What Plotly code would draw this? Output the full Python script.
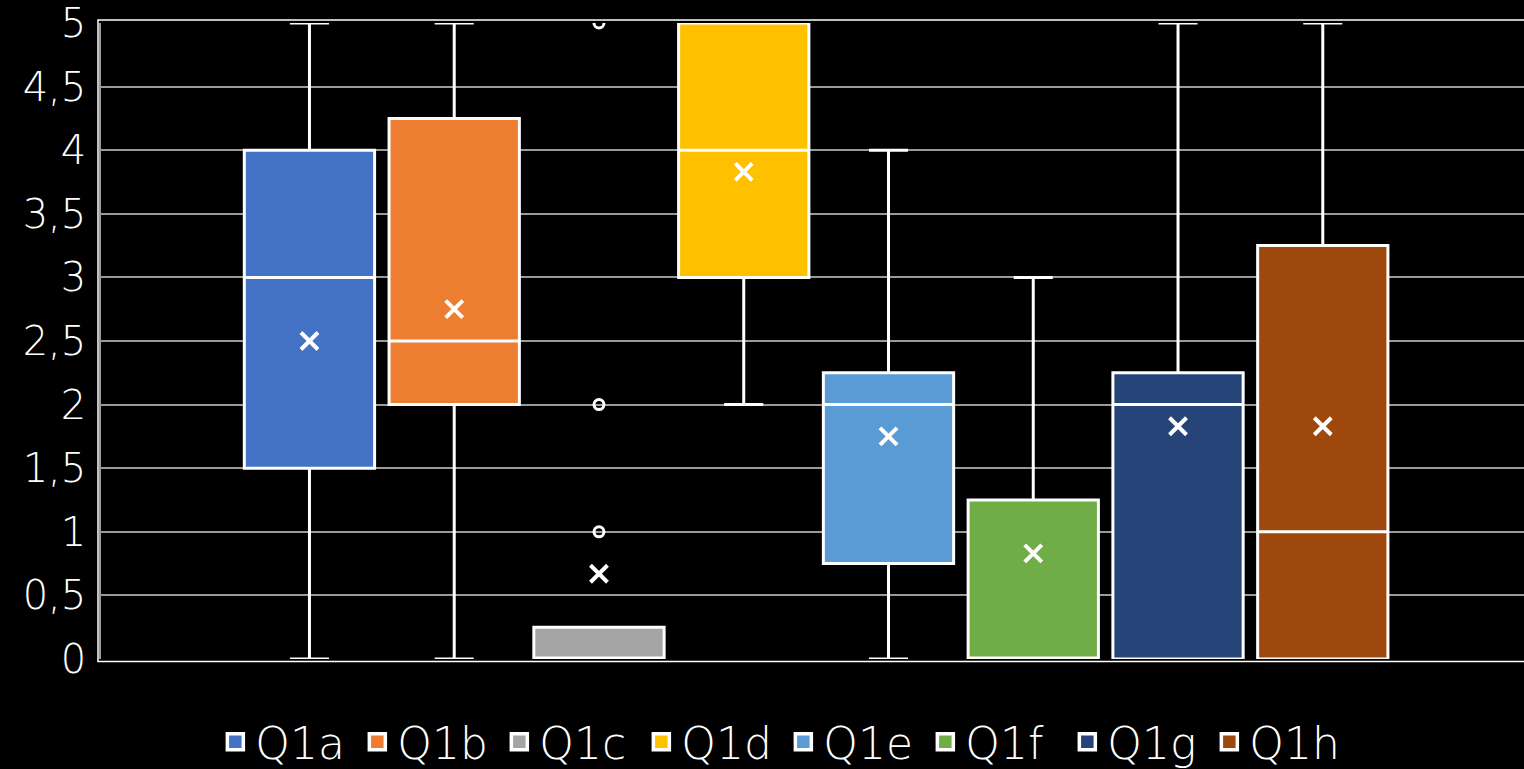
import plotly.graph_objects as go

# Box-plot statistics per question (Excel-style box & whisker)
series = ["Q1a", "Q1b", "Q1c", "Q1d", "Q1e", "Q1f", "Q1g", "Q1h"]
colors = ["#4472C4", "#ED7D31", "#A5A5A5", "#FFC000",
          "#5B9BD5", "#70AD47", "#264478", "#9E480E"]
q1_vals = [1.5, 2.0, 0.0, 3.0, 0.75, 0.0, 0.0, 0.0]
median_vals = [3.0, 2.5, 0.0, 4.0, 2.0, 0.0, 2.0, 1.0]
q3_vals = [4.0, 4.25, 0.25, 5.0, 2.25, 1.25, 2.25, 3.25]
low_vals = [0.0, 0.0, 0.0, 2.0, 0.0, 0.0, 0.0, 0.0]
high_vals = [5.0, 5.0, 0.25, 5.0, 4.0, 3.0, 5.0, 5.0]
mean_vals = [2.5, 2.75, 0.67, 3.83, 1.75, 0.83, 1.83, 1.83]
# Outlying points (only Q1c has any)
outliers = {"Q1c": [1.0, 2.0, 5.0]}

y_ticks = [0, 0.5, 1, 1.5, 2, 2.5, 3, 3.5, 4, 4.5, 5]
y_tick_text = ["0", "0,5", "1", "1,5", "2", "2,5", "3", "3,5", "4", "4,5", "5"]

FONT = "DejaVu Sans"
fig = go.Figure()

for i, name in enumerate(series):
    fig.add_trace(go.Box(
        x=[i], q1=[q1_vals[i]], median=[median_vals[i]], q3=[q3_vals[i]],
        lowerfence=[low_vals[i]], upperfence=[high_vals[i]],
        width=0.9, whiskerwidth=0.3, boxpoints=False,
        fillcolor=colors[i], line=dict(color="white", width=3),
        name=name, showlegend=False, hoverinfo="skip",
    ))

for i, name in enumerate(series):
    pts = outliers.get(name, [])
    if pts:
        fig.add_trace(go.Scatter(
            x=[i] * len(pts), y=pts, mode="markers", showlegend=False,
            marker=dict(symbol="circle-open", size=10, color="white",
                        line=dict(color="white", width=3)),
            hoverinfo="skip",
        ))

# Mean markers
fig.add_trace(go.Scatter(
    x=list(range(len(series))), y=mean_vals, mode="markers", showlegend=False,
    marker=dict(symbol="x-thin", size=17, color="white",
                line=dict(color="white", width=4)),
    hoverinfo="skip",
))

# Legend entries
for i, name in enumerate(series):
    fig.add_trace(go.Scatter(
        x=[None], y=[None], mode="markers", name=name,
        marker=dict(symbol="square", size=16, color=colors[i],
                    line=dict(color="white", width=3.5)),
    ))

fig.update_layout(
    width=1524, height=769,
    paper_bgcolor="black", plot_bgcolor="black",
    margin=dict(l=101, r=0, t=23, b=110, autoexpand=False),
    font=dict(family=FONT, color="white", size=44),
    showlegend=True,
    legend=dict(orientation="h", x=0.514, xanchor="center", xref="container",
                y=0.035, yanchor="middle", yref="container",
                entrywidth=97,
                font=dict(family=FONT, size=44, color="white", weight=300),
                bgcolor="rgba(0,0,0,0)"),
    xaxis=dict(range=[-1.44, 8.39], showgrid=False, showticklabels=False,
               zeroline=False, showline=False, fixedrange=True),
    yaxis=dict(range=[0, 5], tickvals=y_ticks, ticktext=y_tick_text,
               showgrid=True, gridcolor="#9a9a9a", gridwidth=1.5,
               zeroline=False, showline=True, linecolor="#9a9a9a", linewidth=1.5,
               ticks="", ticklabelstandoff=5, ticklabeloverflow="allow",
               tickfont=dict(family=FONT, size=40, color="white", weight=300)),
    shapes=[dict(type="rect", xref="paper", yref="paper",
                 x0=-3 / 1423, x1=1.01, y0=-2.5 / 636, y1=1 + 3 / 636,
                 line=dict(color="white", width=1.5), layer="below")],
)

fig.write_html("out.html")
